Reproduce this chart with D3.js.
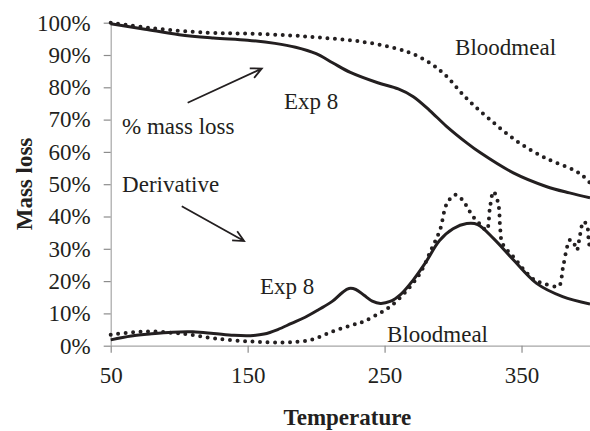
<!DOCTYPE html>
<html>
<head>
<meta charset="utf-8">
<script src="https://cdn.jsdelivr.net/npm/d3@7"></script>
<style>
  body { margin: 0; background: #fff; }
  text { font-family: "Liberation Serif", "Times New Roman", serif; fill: #231f20; }
</style>
</head>
<body>
<div id="chart"></div>
<script>
// temperature values (x) and readings (%) for each curve
var exp8MassT   = [50, 75, 100, 125, 150, 170, 185, 200, 212, 225, 245, 260, 271, 283, 295, 310, 320, 344, 368, 385, 400];
var exp8Mass    = [99.7, 98, 96.3, 95.3, 94.6, 93.6, 92.4, 90.4, 87.6, 84.6, 81.4, 79.5, 77.1, 72.8, 68, 62.8, 59.7, 53.5, 49.3, 47.3, 45.8];

var bloodMassT  = [50, 80, 120, 150, 180, 205, 232, 258, 272, 285, 295, 310, 327, 347, 368, 388, 395, 400];
var bloodMass   = [100, 98.3, 96.9, 96.6, 96.1, 95.3, 94.2, 92.1, 90.1, 87, 83.5, 76.5, 70, 63.2, 58, 54.4, 52.5, 50.4];

var exp8DerivT  = [50, 65, 80, 95, 110, 125, 140, 152, 162, 172, 182, 192, 202, 212, 219, 224, 229, 235, 241, 247, 254, 262, 271, 280, 290, 300, 310, 318, 330, 344, 361, 380, 400];
var exp8Deriv   = [1.8, 3, 3.7, 4.2, 4.3, 3.8, 3.2, 3.1, 3.6, 5, 6.9, 8.8, 11.2, 13.8, 16.4, 17.7, 17.4, 15.6, 13.8, 13.1, 13.7, 16, 20.4, 25.8, 32.5, 36.2, 37.8, 37.5, 33, 26.6, 19.3, 15.2, 12.9];

var bloodDerivT = [50, 65, 79, 95, 108, 127, 152, 176, 196, 212, 225, 234, 244, 254, 265, 276, 284, 290.5, 295.5, 301.5, 306.5, 314.5, 320, 324.5, 327, 329.5, 333, 334.5, 336, 344, 358.7, 368, 376, 378, 380.4, 385.5, 388, 390.4, 392.7, 395.2, 397.7, 399, 400];
var bloodDeriv  = [3.4, 4.1, 4.4, 4, 3.4, 2.2, 1.3, 1, 1.8, 4.4, 6.2, 7.4, 9.5, 12.1, 16.5, 22.5, 29.7, 35.9, 44, 46.7, 45.3, 40, 37.5, 35.8, 43, 47.7, 44, 35.8, 31.7, 27.5, 20.6, 19, 18.3, 18.8, 24.5, 32.8, 32, 29.6, 34.2, 38.4, 37.4, 32.8, 29.6];

var xTicks = [50, 150, 250, 350];
var yTicks = [0, 10, 20, 30, 40, 50, 60, 70, 80, 90, 100];

// annotations: [label, temperature, percent]
var labels = [
  ["Bloodmeal", 301.5, 90],
  ["Exp 8", 176.6, 73.2],
  ["% mass loss", 58.3, 65.5],
  ["Derivative", 58.3, 47.6],
  ["Exp 8", 159, 16],
  ["Bloodmeal", 251.8, 1.2]
];
// arrows: [fromT, fromPct, toT, toPct]
var arrows = [
  [106.2, 75.2, 160.3, 85.8],
  [101.9, 43.2, 147.4, 32.4]
];

var svgWidth = 590, svgHeight = 431;
var plot = {left: 110.7, right: 590, top: 22.7, bottom: 345.7};

var svg = d3.select("#chart").append("svg")
  .attr("width", svgWidth).attr("height", svgHeight);

var x = d3.scaleLinear().domain([50, 400]).range([plot.left, plot.right]);
var y = d3.scaleLinear().domain([0, 100]).range([plot.bottom, plot.top]);

var gx = svg.append("g").attr("transform", "translate(0," + plot.bottom + ")")
  .call(d3.axisBottom(x).tickValues(xTicks).tickSize(7).tickSizeOuter(0).tickPadding(14));
var gy = svg.append("g").attr("transform", "translate(" + plot.left + ",0)")
  .call(d3.axisLeft(y).tickValues(yTicks).tickSize(7).tickSizeOuter(0).tickPadding(13)
    .tickFormat(function(d){ return d + "%"; }));

[gx, gy].forEach(function(g){
  g.attr("font-family", null);
  g.select(".domain").attr("stroke", "#a6a6a6").attr("stroke-width", 1.2);
  g.selectAll(".tick line").attr("stroke", "#8c8c8c").attr("stroke-width", 1.2);
  g.selectAll(".tick text").attr("font-size", 23).attr("fill", "#231f20");
});

function series(ts, vs){
  return ts.map(function(t, i){ return [t, vs[i]]; });
}
var line = d3.line()
  .curve(d3.curveCatmullRom.alpha(0.5))
  .x(function(d){ return x(d[0]); })
  .y(function(d){ return y(d[1]); });

var curves = [
  {data: series(exp8MassT, exp8Mass), dotted: false},
  {data: series(bloodMassT, bloodMass), dotted: true},
  {data: series(exp8DerivT, exp8Deriv), dotted: false},
  {data: series(bloodDerivT, bloodDeriv), dotted: true}
];
curves.forEach(function(c){
  var p = svg.append("path").datum(c.data)
    .attr("d", line)
    .attr("fill", "none")
    .attr("stroke", "#231f20");
  if (c.dotted) {
    p.attr("stroke-width", 4).attr("stroke-dasharray", "0,7.5").attr("stroke-linecap", "round");
  } else {
    p.attr("stroke-width", 3);
  }
});

// arrows with open heads
arrows.forEach(function(a){
  var x1 = x(a[0]), y1 = y(a[1]), x2 = x(a[2]), y2 = y(a[3]);
  var ang = Math.atan2(y2 - y1, x2 - x1), len = 12, spread = 0.45;
  var h1 = [x2 - len * Math.cos(ang - spread), y2 - len * Math.sin(ang - spread)];
  var h2 = [x2 - len * Math.cos(ang + spread), y2 - len * Math.sin(ang + spread)];
  svg.append("path")
    .attr("d", "M" + x1 + "," + y1 + "L" + x2 + "," + y2 +
      "M" + h1[0] + "," + h1[1] + "L" + x2 + "," + y2 + "L" + h2[0] + "," + h2[1])
    .attr("fill", "none").attr("stroke", "#231f20").attr("stroke-width", 1.8);
});

svg.selectAll(".note").data(labels).enter().append("text")
  .attr("class", "note")
  .attr("x", function(d){ return x(d[1]); })
  .attr("y", function(d){ return y(d[2]); })
  .attr("font-size", 23)
  .text(function(d){ return d[0]; });

svg.append("text")
  .attr("x", (plot.left + plot.right) / 2 - 3).attr("y", 425)
  .attr("text-anchor", "middle").attr("font-size", 23).attr("font-weight", "bold")
  .text("Temperature");

svg.append("text")
  .attr("transform", "translate(32," + 184 + ") rotate(-90)")
  .attr("text-anchor", "middle").attr("font-size", 23).attr("font-weight", "bold")
  .text("Mass loss");
</script>
</body>
</html>
